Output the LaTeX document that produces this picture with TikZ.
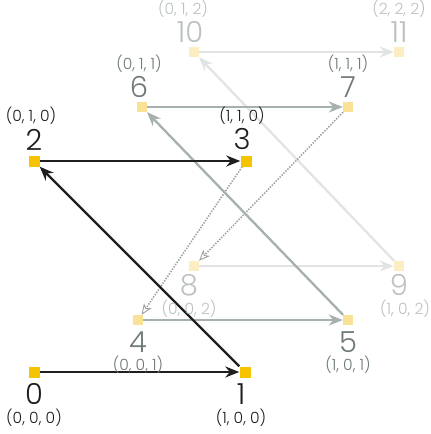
\documentclass[tikz,border=0pt]{standalone}
\usepackage{fontspec}
\setmainfont{Poppins Light}
\usetikzlibrary{positioning,arrows.meta,backgrounds}
\definecolor{goldA}{HTML}{F5C300}
\definecolor{goldB}{HTML}{F9E196}
\definecolor{goldC}{HTML}{FCEEC2}
\definecolor{inkA}{HTML}{1E1E1E}
\definecolor{inkB}{HTML}{6E7978}
\definecolor{inkC}{HTML}{BBC0C1}
\definecolor{lineB}{HTML}{A6B0AE}
\definecolor{lineC}{HTML}{E2E4E4}
\definecolor{dotc}{HTML}{A0A0A0}

\begin{document}
\begin{tikzpicture}[x=1pt,y=-1pt,
  sq/.style={rectangle,minimum size=10pt,inner sep=0pt},
  num/.style={inner sep=0pt,font=\fontsize{29}{29}\selectfont},
  crd/.style={inner sep=0pt,font=\fontsize{15.5}{15.5}\selectfont},
  tip/.style={-{Stealth[length=14pt,width=11pt,inset=4.5pt]},line width=2.3pt},
  dtip/.style={-{Stealth[open,length=11pt,width=9pt,inset=3pt,line width=0.9pt]},
    dash pattern=on 1.4pt off 1.4pt,line width=1.6pt,dotc}]
\useasboundingbox (0,0) rectangle (431,434);
% first sheet
\node[sq,fill=goldA,minimum size=11pt] (q0) at (34,372) {};
\node[sq,fill=goldA,minimum size=11pt] (q1) at (245,372) {};
\node[sq,fill=goldA,minimum size=11pt] (q2) at (34,161) {};
\node[sq,fill=goldA,minimum size=11pt] (q3) at (246,161) {};
\node[num,inkA,below=6pt of q0] (n0) {0};
\node[crd,inkA,below=3.5pt of n0] (c0) {(0, 0, 0)};
\node[num,inkA,below=6pt of q1,xshift=-4pt] (n1) {1};
\node[crd,inkA,below=3.5pt of n1] (c1) {(1, 0, 0)};
\node[num,inkA,above=5pt of q2] (n2) {2};
\node[crd,inkA,above=4pt of n2,xshift=-3pt] (c2) {(0, 1, 0)};
\node[num,inkA,above=5pt of q3,xshift=-4pt] (n3) {3};
\node[crd,inkA,above=4pt of n3] (c3) {(1, 1, 0)};
% second sheet
\node[sq,fill=goldB] (q4) at (138,320) {};
\node[sq,fill=goldB] (q5) at (348,320) {};
\node[sq,fill=goldB] (q6) at (142,107) {};
\node[sq,fill=goldB] (q7) at (348,107) {};
\node[num,inkB,below=6pt of q4] (n4) {4};
\node[crd,inkB,below=3.5pt of n4] (c4) {(0, 0, 1)};
\node[num,inkB,below=6pt of q5] (n5) {5};
\node[crd,inkB,below=3.5pt of n5] (c5) {(1, 0, 1)};
\node[num,inkB,above=4pt of q6,xshift=-3pt] (n6) {6};
\node[crd,inkB,above=4pt of n6] (c6) {(0, 1, 1)};
\node[num,inkB,above=4pt of q7] (n7) {7};
\node[crd,inkB,above=4pt of n7] (c7) {(1, 1, 1)};
% third sheet
\node[sq,fill=goldC] (q8) at (194,266) {};
\node[sq,fill=goldC] (q9) at (399,266) {};
\node[sq,fill=goldC] (q10) at (194,52) {};
\node[sq,fill=goldC] (q11) at (399,52) {};
\node[num,inkC,below=3pt of q8,xshift=-5pt] (n8) {8};
\node[crd,inkC,below=3.5pt of n8] (c8) {(0, 0, 2)};
\node[num,inkC,below=3pt of q9] (n9) {9};
\node[crd,inkC,below=3.5pt of n9,xshift=6pt] (c9) {(1, 0, 2)};
\node[num,inkC,above=4pt of q10,xshift=-4pt] (n10) {10};
\node[crd,inkC,above=4pt of n10,xshift=-7pt] (c10) {(0, 1, 2)};
\node[num,inkC,above=4pt of q11] (n11) {11};
\node[crd,inkC,above=4pt of n11] (c11) {(2, 2, 2)};
\begin{scope}[on background layer]
\draw[tip,lineC] (q8) -- (q9);
\draw[tip,lineC] (q9) -- (q10);
\draw[tip,lineC] (q10) -- (q11);
\draw[dtip] (q3) -- (q4);
\draw[dtip] (q7) -- (q8);
\draw[tip,lineB] (q4) -- (q5);
\draw[tip,lineB] (q5) -- (q6);
\draw[tip,lineB] (q6) -- (q7);
\draw[tip,inkA] (q0) -- (q1);
\draw[tip,inkA] (q1) -- (q2);
\draw[tip,inkA] (q2) -- (q3);
\end{scope}
\end{tikzpicture}
\end{document}
